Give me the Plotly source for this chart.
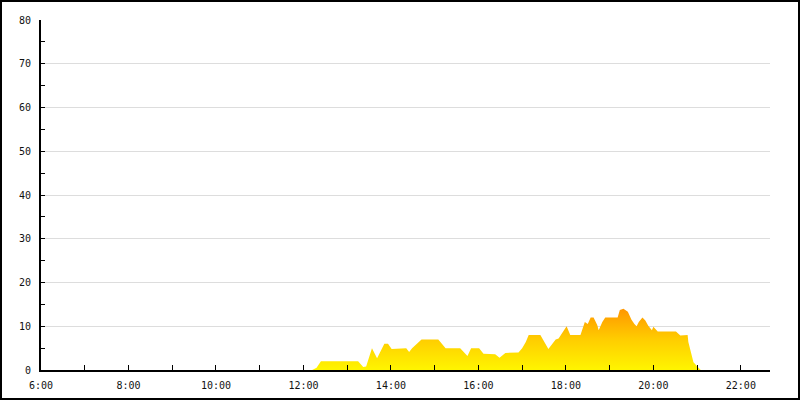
import plotly.graph_objects as go

times = ["06:00", "12:12", "12:18", "12:24", "13:15", "13:22", "13:26", "13:34", "13:41", "13:51",
         "13:56", "14:01", "14:21", "14:25", "14:29", "14:42", "15:05", "15:15", "15:35", "15:45",
         "15:50", "16:01", "16:07", "16:23", "16:29", "16:37", "16:55", "17:00", "17:05", "17:09",
         "17:25", "17:36", "17:46", "17:50", "18:01", "18:06", "18:20", "18:26", "18:30", "18:34",
         "18:38", "18:43", "18:45", "18:50", "18:54", "19:11", "19:14", "19:19", "19:25", "19:30",
         "19:34", "19:37", "19:40", "19:45", "19:49", "19:53", "19:58", "20:00", "20:06", "20:31",
         "20:37", "20:47", "20:48", "20:51", "20:54", "20:55", "21:01", "21:05"]
values = [0, 0, 0.5, 2, 2, 0.7, 0.8, 5, 2.7, 6,
          6, 4.8, 5, 4.1, 5, 7, 7, 5, 5, 3.2,
          5, 5, 3.7, 3.6, 2.8, 3.9, 4, 5, 6.4, 8,
          8, 4.8, 7, 7.2, 10, 8, 8, 11, 10.5, 12,
          12, 10.3, 9.1, 11, 12, 12, 13.7, 14, 13.3, 11.5,
          10.5, 10, 11, 12, 11.3, 10.1, 9.1, 9.9, 8.8, 8.8,
          7.9, 8, 6.4, 4.6, 3, 1.8, 0.7, 0]
x_ticks = ["06:00", "08:00", "10:00", "12:00", "14:00", "16:00", "18:00", "20:00", "22:00"]

DAY = "2024-01-01 "
xs = [DAY + t for t in times]

fig = go.Figure()
fig.add_trace(go.Scatter(
    x=xs, y=values, mode="lines", line=dict(width=0, color="rgba(0,0,0,0)"),
    fill="tozeroy",
    fillgradient=dict(type="vertical",
                      colorscale=[[0, "rgb(255,245,0)"], [0.5, "rgb(255,205,0)"], [1, "rgb(255,150,0)"]]),
    hoverinfo="skip", showlegend=False,
))

W, H = 800, 400
L, R, T, B = 41, 30, 20, 30
pw, ph = W - L - R, H - T - B

fig.update_layout(
    width=W, height=H,
    margin=dict(l=L, r=R, t=T, b=B),
    paper_bgcolor="white", plot_bgcolor="white",
    font=dict(family="DejaVu Sans Mono", size=10, color="#111111"),
    xaxis=dict(
        type="date",
        range=[DAY + "06:00", DAY + "22:40"],
        tickvals=[DAY + t for t in x_ticks],
        tickformat="%-H:%M",
        ticks="inside", ticklen=5, tickwidth=1, tickcolor="black",
        minor=dict(dtick=3600000, ticks="inside", ticklen=5, tickcolor="black", tickwidth=1, showgrid=False),
        showline=True, linecolor="black", linewidth=2,
        showgrid=False, zeroline=False,
        ticklabelstandoff=5, automargin=False,
    ),
    yaxis=dict(
        range=[0, 80], dtick=10,
        ticks="inside", ticklen=4, tickwidth=1, tickcolor="black",
        minor=dict(dtick=5, ticks="inside", ticklen=4, tickcolor="black", tickwidth=1, showgrid=False),
        showline=True, linecolor="black", linewidth=2,
        showgrid=True, gridcolor="#dddddd", gridwidth=1, zeroline=False,
        ticklabelstandoff=6, automargin=False,
    ),
    shapes=[dict(type="rect", xref="paper", yref="paper",
                 x0=(-L + 1) / pw, x1=1 + (R - 1) / pw,
                 y0=(-B + 1) / ph, y1=1 + (T - 1) / ph,
                 line=dict(color="black", width=2), fillcolor="rgba(0,0,0,0)", layer="above")],
)

fig.write_html("out.html", config={"displayModeBar": False},
               post_script="document.body.style.margin='0';document.body.style.overflow='hidden';")
